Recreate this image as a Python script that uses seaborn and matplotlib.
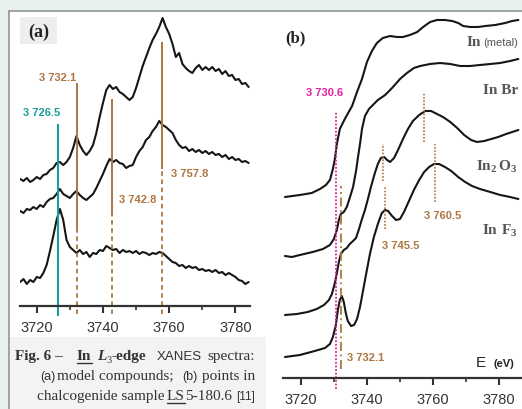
import pandas as pd
import seaborn as sns
import matplotlib.pyplot as plt
from matplotlib.lines import Line2D
from matplotlib.patches import Rectangle

# ---- panel (a): model compounds, noisy spectra on a 1 eV grid
energy_a = list(range(3715, 3785))
spec_a_top = [1.27, 1.25, 1.28, 1.24, 1.26, 1.29, 1.27, 1.31, 1.32, 1.36,
              1.38, 1.43, 1.44, 1.41, 1.44, 1.49, 1.58, 1.70, 1.61, 1.55,
              1.51, 1.55, 1.61, 1.73, 1.89, 2.03, 2.16, 2.21, 2.17, 2.19,
              2.14, 2.12, 2.09, 2.06, 2.09, 2.18, 2.29, 2.40, 2.49, 2.58,
              2.66, 2.72, 2.79, 2.88, 2.79, 2.72, 2.62, 2.49, 2.53, 2.42,
              2.38, 2.35, 2.33, 2.38, 2.41, 2.36, 2.39, 2.36, 2.39, 2.35,
              2.37, 2.32, 2.35, 2.30, 2.31, 2.26, 2.27, 2.22, 2.23, 2.19]
spec_a_mid = [0.95, 0.93, 0.97, 0.96, 0.99, 0.97, 1.01, 0.99, 1.04, 1.07,
              1.08, 1.12, 1.17, 1.12, 1.10, 1.08, 1.12, 1.15, 1.11, 1.08,
              1.06, 1.09, 1.12, 1.18, 1.25, 1.32, 1.40, 1.47, 1.44, 1.46,
              1.43, 1.42, 1.38, 1.40, 1.41, 1.49, 1.55, 1.59, 1.66, 1.69,
              1.75, 1.79, 1.85, 1.81, 1.79, 1.76, 1.73, 1.66, 1.61, 1.58,
              1.59, 1.55, 1.57, 1.54, 1.56, 1.53, 1.55, 1.52, 1.54, 1.51,
              1.52, 1.49, 1.51, 1.47, 1.49, 1.46, 1.47, 1.44, 1.45, 1.43]
spec_a_low = [0.24, 0.27, 0.22, 0.26, 0.24, 0.29, 0.28, 0.33, 0.41, 0.55,
              0.70, 0.86, 0.97, 0.86, 0.66, 0.59, 0.56, 0.53, 0.56, 0.52,
              0.54, 0.49, 0.53, 0.52, 0.56, 0.55, 0.60, 0.58, 0.56, 0.57,
              0.53, 0.56, 0.54, 0.55, 0.53, 0.55, 0.52, 0.54, 0.53, 0.51,
              0.53, 0.52, 0.54, 0.53, 0.50, 0.47, 0.44, 0.43, 0.40, 0.41,
              0.38, 0.40, 0.38, 0.39, 0.36, 0.37, 0.35, 0.36, 0.34, 0.36,
              0.33, 0.34, 0.31, 0.33, 0.31, 0.29, 0.26, 0.25, 0.22, 0.24]

# ---- panel (b): sample points, smooth spectra
e_metal = [3715.2, 3719.7, 3723.3, 3725.8, 3727.6, 3728.8, 3729.7, 3730.3, 3730.9, 3731.8,
           3733.3, 3735.5, 3737.0, 3738.5, 3740.0, 3741.5, 3743.0, 3744.8, 3747.0, 3749.1,
           3750.9, 3753.0, 3755.2, 3757.0, 3759.1, 3761.2, 3763.6, 3765.8, 3767.6, 3769.1,
           3771.2, 3773.6, 3775.8, 3778.8, 3781.8, 3783.9, 3785.8]
mu_metal = [1.81, 1.83, 1.85, 1.89, 1.93, 1.98, 2.09, 2.19, 2.34, 2.49,
            2.59, 2.72, 2.86, 2.99, 3.16, 3.27, 3.35, 3.40, 3.42, 3.41,
            3.41, 3.43, 3.46, 3.51, 3.56, 3.58, 3.58, 3.57, 3.55, 3.52,
            3.51, 3.51, 3.52, 3.53, 3.55, 3.57, 3.58]
e_br = [3715.2, 3717.3, 3719.7, 3723.6, 3726.7, 3728.8, 3730.0, 3730.9, 3731.5, 3732.1,
        3733.0, 3733.9, 3734.8, 3735.8, 3736.7, 3737.3, 3737.9, 3738.5, 3739.4, 3740.6,
        3741.8, 3743.3, 3745.5, 3747.6, 3750.0, 3752.1, 3754.2, 3756.1, 3759.1, 3762.1,
        3765.2, 3768.2, 3771.2, 3774.2, 3777.3, 3780.3, 3783.3, 3785.8]
mu_br = [1.22, 1.21, 1.23, 1.26, 1.29, 1.33, 1.39, 1.48, 1.58, 1.64,
         1.66, 1.71, 1.80, 1.91, 2.07, 2.21, 2.34, 2.49, 2.62, 2.69,
         2.73, 2.78, 2.83, 2.90, 2.99, 3.05, 3.10, 3.12, 3.14, 3.15,
         3.14, 3.12, 3.12, 3.13, 3.14, 3.15, 3.17, 3.19]
e_oxide = [3715.2, 3718.8, 3722.1, 3724.8, 3727.0, 3728.5, 3729.4, 3730.3, 3730.9, 3731.5,
           3732.1, 3733.0, 3733.9, 3734.8, 3735.8, 3736.7, 3737.6, 3738.5, 3739.4, 3740.3,
           3741.2, 3742.4, 3743.3, 3744.2, 3745.2, 3746.1, 3747.0, 3748.2, 3749.4, 3750.9,
           3752.4, 3753.9, 3755.8, 3757.6, 3759.4, 3761.2, 3763.0, 3765.2, 3767.3, 3769.4,
           3771.5, 3773.3, 3775.5, 3777.6, 3779.7, 3782.1, 3785.8]
mu_oxide = [0.63, 0.64, 0.66, 0.69, 0.73, 0.78, 0.84, 0.95, 1.05, 1.16,
            1.24, 1.28, 1.30, 1.34, 1.37, 1.40, 1.49, 1.59, 1.68, 1.79,
            1.91, 2.05, 2.14, 2.20, 2.21, 2.18, 2.16, 2.20, 2.28, 2.39,
            2.49, 2.57, 2.63, 2.67, 2.67, 2.64, 2.61, 2.56, 2.50, 2.43,
            2.38, 2.36, 2.37, 2.39, 2.41, 2.44, 2.48]
e_fluor = [3715.2, 3719.7, 3724.2, 3727.3, 3728.8, 3729.7, 3730.6, 3731.2, 3731.8, 3732.4,
           3733.0, 3733.6, 3734.2, 3735.2, 3736.1, 3737.0, 3737.9, 3738.8, 3739.7, 3740.9,
           3742.1, 3743.3, 3744.5, 3745.5, 3746.4, 3747.6, 3748.8, 3750.0, 3751.2, 3752.7,
           3754.2, 3755.8, 3757.3, 3758.8, 3760.3, 3761.8, 3763.6, 3765.5, 3767.6, 3769.7,
           3771.8, 3774.2, 3777.3, 3780.3, 3783.3, 3785.8]
mu_fluor = [0.21, 0.23, 0.27, 0.30, 0.34, 0.41, 0.53, 0.68, 0.78, 0.82,
            0.76, 0.65, 0.57, 0.52, 0.53, 0.59, 0.71, 0.87, 1.03, 1.24,
            1.41, 1.54, 1.65, 1.68, 1.67, 1.62, 1.58, 1.59, 1.66, 1.77,
            1.88, 1.98, 2.06, 2.11, 2.14, 2.14, 2.11, 2.07, 2.01, 1.96,
            1.92, 1.89, 1.86, 1.83, 1.81, 1.79]

# marker lines (energies and the labels that go with them)
edge_a = 3726.5
peaks_a = [3732.1, 3742.8, 3757.8]
peaks_a_top = [2.23, 2.07, 2.64]
peaks_a_split = [0.77, 0.90, 1.37]
edge_b = 3730.6
white_line_b = 3732.1
oxide_peaks = [3744.8, 3757.3]
oxide_tops = [2.34, 2.86]
oxide_bots = [1.97, 2.36]
fluor_peaks = [3745.5, 3760.5]
fluor_tops = [1.92, 2.34]
fluor_bots = [1.49, 1.76]

TEAL = '#1a9c9c'
BROWN = '#ad7640'
MAGENTA = '#e01fa0'
INK = '#161616'
GREY = '#555555'

W, H = 522, 410


def fx(x):
    return x / W


def fy(y):
    return 1 - y / H


sns.set_style('white')
plt.rcParams['font.family'] = ['Liberation Sans', 'DejaVu Sans']
plt.rcParams['mathtext.fontset'] = 'custom'
plt.rcParams['mathtext.rm'] = 'Liberation Serif:bold'
plt.rcParams['mathtext.bf'] = 'Liberation Serif:bold'

fig = plt.figure(figsize=(W / 100, H / 100), dpi=100)
fig.patch.set_facecolor('#e8f1ec')

# white page, caption box, frame lines
fig.add_artist(Rectangle((fx(9), 0), 1 - fx(9), fy(11.5), transform=fig.transFigure,
                         facecolor='white', edgecolor='none', zorder=-3))
fig.add_artist(Rectangle((fx(9.5), 0), fx(266) - fx(9.5), fy(338), transform=fig.transFigure,
                         facecolor='#f3f3f3', edgecolor='none', zorder=-2))
fig.add_artist(Rectangle((fx(20), fy(45)), fx(57) - fx(20), fy(18) - fy(45), transform=fig.transFigure,
                         facecolor='#eeeeee', edgecolor='none', zorder=-2))
fig.add_artist(Line2D([fx(9), 1], [fy(11.5), fy(11.5)], color='#8a8a8a', lw=1.1, zorder=-1))
fig.add_artist(Line2D([fx(9), fx(9)], [0, fy(11.5)], color='#8a8a8a', lw=1.1, zorder=-1))

ax_a = fig.add_axes([fx(20), fy(307), 230 / W, 295 / H])
ax_b = fig.add_axes([fx(283.3), fy(379), (W - 283.3) / W, 367 / H])

for e, mu in [(energy_a, spec_a_top), (energy_a, spec_a_mid), (energy_a, spec_a_low)]:
    sns.lineplot(x=e, y=mu, ax=ax_a, color=INK, lw=1.5, estimator=None, sort=False)
for e, mu in [(e_metal, mu_metal), (e_br, mu_br), (e_oxide, mu_oxide), (e_fluor, mu_fluor)]:
    sns.lineplot(x=e, y=mu, ax=ax_b, color=INK, lw=1.5, estimator=None, sort=False)

ax_a.set(xlim=(3714.95, 3784.4), ylim=(0, 2.95), xlabel='', ylabel='')
ax_b.set(xlim=(3714.7, 3786.9), ylim=(0, 3.67), xlabel='', ylabel='')

for ax in (ax_a, ax_b):
    ax.set_facecolor('none')
    for side in ('left', 'right', 'top'):
        ax.spines[side].set_visible(False)
    ax.spines['bottom'].set_color('#333333')
    ax.spines['bottom'].set_linewidth(1.6)
    ax.set_yticks([])
    ax.set_xticks([3720, 3740, 3760, 3780])
    ax.set_xticks([3730, 3750, 3770], minor=True)
    ax.tick_params(axis='x', which='major', direction='out', length=5, width=1.5,
                   color='#333333', labelsize=10.5, labelcolor='#333333', pad=5, bottom=True)
    ax.tick_params(axis='x', which='minor', direction='out', length=3, width=1.2,
                   color='#333333', bottom=True)

# ---- markers, panel (a)
ax_a.vlines(edge_a, -0.10, 1.82, color=TEAL, lw=1.5, clip_on=False)
ax_a.vlines(peaks_a, peaks_a_split, peaks_a_top, color=BROWN, lw=1.4, clip_on=False)
ax_a.vlines(peaks_a, -0.08, peaks_a_split, color=BROWN, lw=1.3,
            linestyles=(0, (2.5, 2)), clip_on=False)

ax_a.text(3721.6, 1.94, '3 726.5', color=TEAL, fontsize=8, fontweight='bold', ha='center', va='center')
ax_a.text(3726.4, 2.29, '3 732.1', color=BROWN, fontsize=8, fontweight='bold', ha='center', va='center')
ax_a.text(3750.5, 1.07, '3 742.8', color=BROWN, fontsize=8, fontweight='bold', ha='center', va='center')
ax_a.text(3766.3, 1.33, '3 757.8', color=BROWN, fontsize=8, fontweight='bold', ha='center', va='center')

# ---- markers, panel (b)
ax_b.vlines(edge_b, -0.11, 2.67, color=MAGENTA, lw=1.3, linestyles=(0, (1, 1)), clip_on=False)
ax_b.vlines(white_line_b, 0.09, 1.92, color=BROWN, lw=1.3, linestyles=(0, (5, 2, 1, 2)), clip_on=False)
ax_b.vlines(oxide_peaks, oxide_bots, oxide_tops, color=BROWN, lw=1.2, linestyles=(0, (1, 1)))
ax_b.vlines(fluor_peaks, fluor_bots, fluor_tops, color=BROWN, lw=1.2, linestyles=(0, (1, 1)))

ax_b.text(3727.3, 2.86, '3 730.6', color=MAGENTA, fontsize=8, fontweight='bold', ha='center', va='center')
ax_b.text(3734.0, 0.21, '3 732.1', color=BROWN, fontsize=8, fontweight='bold', ha='left', va='center')
ax_b.text(3750.3, 1.33, '3 745.5', color=BROWN, fontsize=8, fontweight='bold', ha='center', va='center')
ax_b.text(3763.0, 1.63, '3 760.5', color=BROWN, fontsize=8, fontweight='bold', ha='center', va='center')

# panel tags and compound names
serif = ['Liberation Serif', 'DejaVu Serif']
fig.text(fx(39), fy(32), '(a)', family=serif, fontweight='bold', fontsize=13, color='#222222',
         ha='center', va='center')
fig.text(fx(295), fy(38), '(b)', family=serif, fontweight='bold', fontsize=12, color='#222222',
         ha='center', va='center')
fig.text(fx(481), fy(43), 'In', family=serif, fontweight='bold', fontsize=11, color=GREY,
         ha='right', va='center')
fig.text(fx(518), fy(43), '(metal)', fontsize=8, color=GREY, ha='right', va='center')
fig.text(fx(518), fy(90), 'In Br', family=serif, fontweight='bold', fontsize=11, color=GREY,
         ha='right', va='center')
fig.text(fx(518), fy(167), r'$\mathbf{In_2\,O_3}$', fontsize=11, color=GREY, ha='right', va='center')
fig.text(fx(518), fy(231), r'$\mathbf{In\ F_3}$', fontsize=11, color=GREY, ha='right', va='center')
fig.text(fx(486), fy(363), 'E', fontsize=11, color='#222222', ha='right', va='center')
fig.text(fx(514), fy(364), '(eV)', fontsize=8, fontweight='bold', color='#222222', ha='right', va='center')

# ---- caption
CAP = '#333333'
fig.text(fx(15), fy(357), 'Fig. 6 –', family=serif, fontweight='bold', fontsize=11, color=CAP, va='center')
fig.text(fx(77), fy(357), 'In', family=serif, fontweight='bold', fontsize=11, color=CAP, va='center')
fig.add_artist(Line2D([fx(77), fx(92)], [fy(364), fy(364)], color=CAP, lw=1))
fig.text(fx(97), fy(357), 'L', family=serif, fontweight='bold', style='italic', fontsize=11,
         color=CAP, va='center')
fig.text(fx(106.5), fy(361), '3', family=serif, fontsize=7.5, color=CAP, va='center')
fig.text(fx(111.5), fy(357), '-edge', family=serif, fontweight='bold', fontsize=11, color=CAP, va='center')
fig.text(fx(157), fy(357), 'XANES', fontsize=9.5, color=CAP, va='center')
fig.text(fx(255), fy(357), 'spectra:', family=serif, fontsize=11, color=CAP, ha='right', va='center')

fig.text(fx(40), fy(377), '(a)', fontsize=9, color=CAP, va='center')
fig.text(fx(57), fy(377), 'model compounds;', family=serif, fontsize=11, color=CAP, va='center')
fig.text(fx(182), fy(377), '(b)', fontsize=9, color=CAP, va='center')
fig.text(fx(255), fy(377), 'points in', family=serif, fontsize=11, color=CAP, ha='right', va='center')

fig.text(fx(37), fy(397), 'chalcogenide sample', family=serif, fontsize=11, color=CAP, va='center')
fig.text(fx(167), fy(397), 'LS', family=serif, fontsize=11, color=CAP, va='center')
fig.add_artist(Line2D([fx(167), fx(185)], [fy(404), fy(404)], color=CAP, lw=1))
fig.text(fx(185.5), fy(397), '5-180.6', family=serif, fontsize=11, color=CAP, va='center')
fig.text(fx(255), fy(397), '[11]', fontsize=8.5, color=CAP, ha='right', va='center')

fig.savefig('out.png', dpi=100, facecolor=fig.get_facecolor())
